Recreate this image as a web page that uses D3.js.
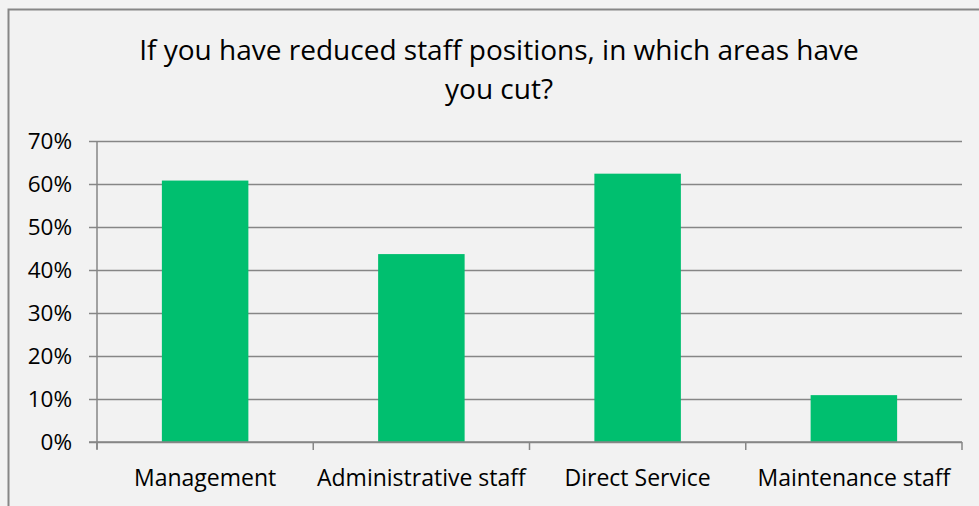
<!DOCTYPE html>
<html>
<head>
<meta charset="utf-8">
<script src="https://cdn.jsdelivr.net/npm/d3@7/dist/d3.min.js"></script>
<style>
  html, body { margin: 0; padding: 0; background: #f2f2f2; }
  svg { display: block; }
  text { font-family: "Open Sans", sans-serif; fill: #000; }
</style>
</head>
<body>
<svg id="chart" width="979" height="506"></svg>
<script>
// Survey results: share of respondents that cut positions in each area
const categories = ["Management", "Administrative staff", "Direct Service", "Maintenance staff"];
const shares = [0.608, 0.437, 0.624, 0.109];
const yTicks = [0, 0.1, 0.2, 0.3, 0.4, 0.5, 0.6, 0.7];
const titleLines = ["If you have reduced staff positions, in which areas have", "you cut?"];

const svg = d3.select("#chart");
const W = 979, H = 506;
const plot = { left: 97, right: 962, top: 141, bottom: 442 };
const gridColor = "#868686";
const barColor = "#00bf6f";

// chart frame
svg.append("rect")
  .attr("x", 8.5).attr("y", 9.5)
  .attr("width", W + 20).attr("height", H + 20)
  .attr("fill", "#f2f2f2")
  .attr("stroke", gridColor).attr("stroke-width", 2);

// title
svg.append("g").selectAll("text")
  .data(titleLines)
  .join("text")
  .attr("x", 499)
  .attr("y", (d, i) => 60 + i * 39)
  .attr("text-anchor", "middle")
  .attr("font-size", 28)
  .text(d => d);

const x = d3.scaleBand()
  .domain(categories)
  .range([plot.left, plot.right])
  .paddingInner(0.6)
  .paddingOuter(0.3);

const y = d3.scaleLinear()
  .domain([0, 0.7])
  .range([plot.bottom, plot.top]);

// horizontal gridlines with outward ticks
const yAxis = d3.axisLeft(y)
  .tickValues(yTicks)
  .tickFormat(d3.format(".0%"))
  .tickSize(-(plot.right - plot.left))
  .tickPadding(0);

const yG = svg.append("g")
  .attr("transform", `translate(${plot.left},0)`)
  .call(yAxis);
yG.select(".domain").remove();
yG.selectAll(".tick line")
  .attr("x1", -8)
  .attr("stroke", gridColor)
  .attr("stroke-width", 1.5);
yG.selectAll(".tick text")
  .attr("x", -25)
  .attr("dy", "0.35em")
  .attr("font-size", 22.5)
  .attr("font-family", "Open Sans, sans-serif")
  .attr("fill", "#000");

// vertical axis line
svg.append("line")
  .attr("x1", plot.left).attr("x2", plot.left)
  .attr("y1", plot.top).attr("y2", plot.bottom + 7)
  .attr("stroke", gridColor).attr("stroke-width", 1.5);

// bars
svg.append("g").selectAll("rect")
  .data(categories)
  .join("rect")
  .attr("x", d => x(d))
  .attr("width", x.bandwidth())
  .attr("y", (d, i) => y(shares[i]))
  .attr("height", (d, i) => y(0) - y(shares[i]))
  .attr("fill", barColor);

// category axis: tick marks sit on the boundaries between categories
const step = x.step();
const edges = d3.range(categories.length + 1).map(i => plot.left + i * step);
const xG = svg.append("g");
xG.append("line")
  .attr("x1", plot.left - 8).attr("x2", plot.right)
  .attr("y1", plot.bottom).attr("y2", plot.bottom)
  .attr("stroke", gridColor).attr("stroke-width", 1.5);
xG.selectAll("line.tk")
  .data(edges)
  .join("line")
  .attr("class", "tk")
  .attr("x1", d => d).attr("x2", d => d)
  .attr("y1", plot.bottom).attr("y2", plot.bottom + 8)
  .attr("stroke", gridColor).attr("stroke-width", 1.5);
xG.selectAll("text")
  .data(categories)
  .join("text")
  .attr("x", d => x(d) + x.bandwidth() / 2)
  .attr("y", 486)
  .attr("text-anchor", "middle")
  .attr("font-size", 23)
  .text(d => d);
</script>
</body>
</html>
